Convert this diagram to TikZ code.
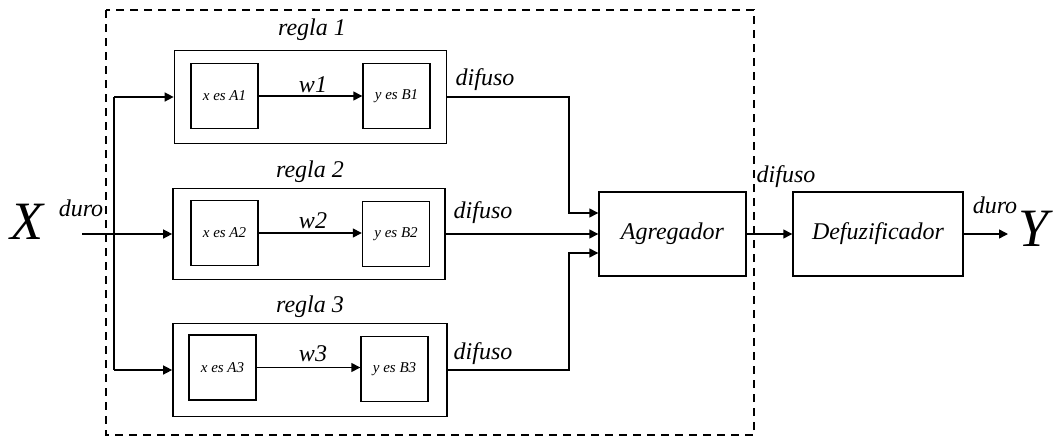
\documentclass[tikz,border=0pt]{standalone}
\usepackage{fontspec}
\setmainfont{Liberation Serif}
\usetikzlibrary{arrows.meta}
\begin{document}
\begin{tikzpicture}[x=1pt,y=-1pt,
  every node/.style={font=\itshape},
  lbl/.style={font=\fontsize{24}{26}\selectfont\itshape, inner sep=0pt},
  rulebox/.style={draw, line width=1.7pt, minimum width=272pt, minimum height=93pt, inner sep=0pt},
  inbox/.style={draw, line width=1.4pt, minimum width=67pt, minimum height=65pt, inner sep=0pt, font=\fontsize{15}{17}\selectfont\itshape},
  bigbox/.style={draw, line width=1.4pt, minimum height=84pt, inner sep=0pt, font=\fontsize{24}{26}\selectfont\itshape},
  conn/.style={line width=1.4pt},
  arr/.style={line width=1.4pt, -{Triangle[length=9pt,width=9pt]}},
  big/.style={font=\fontsize{54}{56}\selectfont\itshape, inner sep=0pt},
]
\useasboundingbox (0,0) rectangle (1053,439);
\draw[line width=1.2pt, dash pattern=on 8pt off 6pt] (106,10) rectangle (754,435);

% rule boxes
\node[rulebox] (r1) at (310.5,97) {};
\node[rulebox, minimum height=91pt] (r2) at (309,234) {};
\node[rulebox, minimum width=274pt] (r3) at (310,370) {};

\node[lbl] (t1) at (312,30) {regla 1};
\node[lbl] (t2) at (310,172) {regla 2};
\node[lbl] (t3) at (310,307) {regla 3};

\node[inbox] (a1) at (224.5,96) {x es A1};
\node[inbox] (b1) at (396.5,96) {y es B1};
\node[inbox] (a2) at (224.5,233) {x es A2};
\node[inbox] (b2) at (396,234) {y es B2};
\node[inbox] (a3) at (222.5,367.5) {x es A3};
\node[inbox] (b3) at (394.5,369) {y es B3};

\draw[arr] (a1.east) -- (b1.west |- a1.east);
\draw[arr] (a2.east) -- (b2.west |- a2.east);
\draw[arr] (a3.east) -- (b3.west |- a3.east);
\node[lbl] (w1) at (313,85) {w1};
\node[lbl] (w2) at (313,221) {w2};
\node[lbl] (w3) at (313,354) {w3};

% input
\node[big] (X) at (27,222) {X};
\node[lbl] (duro1) at (81,208) {duro};
\coordinate (in) at (82,234);
\draw[arr] (in) -- (r2.west);
\draw[arr] (114,97) coordinate (top) -- (r1.west);
\draw[conn] (top) -- (114,370) coordinate (bot);
\draw[arr] (bot) -- (r3.west);

% aggregator
\node[bigbox, minimum width=147pt] (agg) at (672.5,234) {Agregador};
\node[bigbox, minimum width=170pt] (def) at (878,234) {Defuzificador};

\draw[arr] (r1.east) -- (569,97) -- (569,213) -- (agg.west |- 0,213);
\draw[arr] (r2.east) -- (agg.west |- r2.east);
\draw[arr] (r3.east) -- (569,370) -- (569,253) -- (agg.west |- 0,253);
\node[lbl] (d1) at (485,80) {difuso};
\node[lbl] (d2) at (483,213) {difuso};
\node[lbl] (d3) at (483,354) {difuso};

\draw[arr] (agg.east) -- (def.west);
\node[lbl] (d4) at (786,177) {difuso};

\coordinate (out) at (1008,234);
\draw[arr] (def.east) -- (out);
\node[lbl] (duro2) at (995,205) {duro};
\node[big] (Y) at (1034,229) {Y};
\end{tikzpicture}
\end{document}
